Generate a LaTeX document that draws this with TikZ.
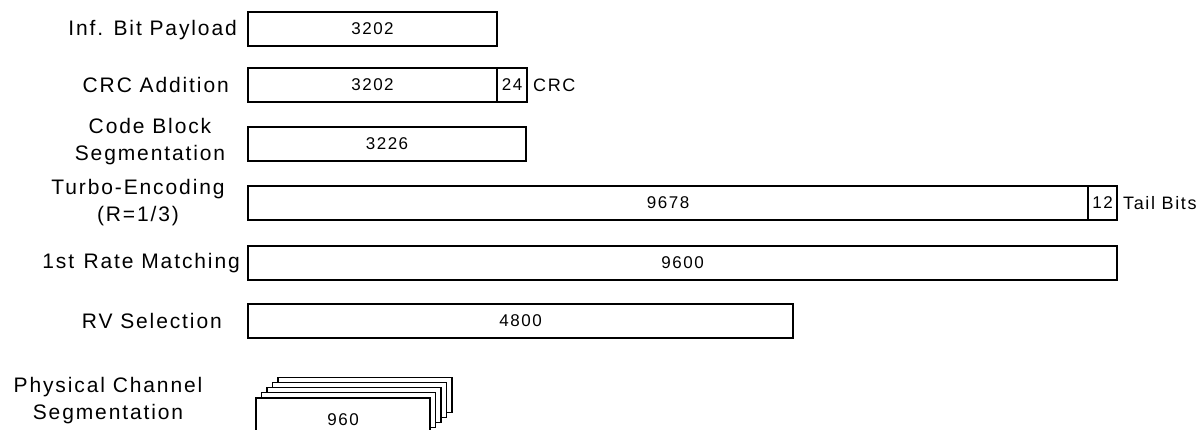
\documentclass[tikz,border=0pt]{standalone}
\usepackage{fontspec}
\setmainfont{Liberation Sans}[LetterSpace=9]
\usetikzlibrary{positioning}

\begin{document}
\begin{tikzpicture}[
    x=1pt, y=-1pt,
    stage/.style={font=\fontsize{21}{27}\selectfont, inner sep=0pt, align=center},
    blk/.style={draw=black, line width=1.3pt, rectangle, minimum height=34pt, inner sep=0pt, outer sep=0pt, font=\fontsize{17}{20}\selectfont, fill=white},
    tag/.style={font=\fontsize{18}{20}\selectfont, inner sep=0pt}
]
\useasboundingbox (0,0) rectangle (1198,429);

% Stufen
\node[stage, anchor=east] (lpay) at (237,30) {Inf. Bit Payload};
\node[stage, anchor=east] (lcrc) at (229,85) {CRC Addition};
\node[stage] (lseg) at (150,142) {Code Block\\Segmentation};
\node[stage] (lturbo) at (138,203) {Turbo-Encoding\\(R=1/3)};
\node[stage, anchor=east] (lrm) at (240,263) {1st\hspace{0.45em}Rate Matching};
\node[stage, anchor=east] (lrv) at (222,321) {RV Selection};
\node[stage] (lphy) at (108,401) {Physical Channel\\Segmentation};

% Bloecke
\node[blk, anchor=north west, minimum width=249pt] (pay) at (248,12) {3202};
\node[blk, anchor=north west, minimum width=249pt] (crc) at (248,68) {3202};
\node[blk, anchor=west, minimum width=30pt] (crcbits) at (crc.east) {24};
\draw[line width=2.6pt] (crcbits.north west) -- (crcbits.south west);
\node[tag, right=6pt of crcbits] (tcrc) {CRC};
\node[blk, anchor=north west, minimum width=278pt] (cb) at (248,127) {3226};
\node[blk, anchor=north west, minimum width=840pt] (turbo) at (248,186) {9678};
\node[blk, anchor=west, minimum width=29pt] (tail) at (turbo.east) {12};
\node[tag, right=6pt of tail] (ttail) {Tail Bits};
\node[blk, anchor=north west, minimum width=869pt] (rm) at (248,246) {9600};
\node[blk, anchor=north west, minimum width=545pt] (rv) at (248,304) {4800};

% Stapel
\foreach \i in {4,3,2,1}
  \node[blk, anchor=north west, minimum width=174pt, minimum height=35pt] (seg\i) at ({256+5.5*\i},{398-5.2*\i}) {};
\node[blk, anchor=north west, minimum width=174pt, minimum height=44pt] (seg0) at (256,398) {960};

\end{tikzpicture}
\end{document}
